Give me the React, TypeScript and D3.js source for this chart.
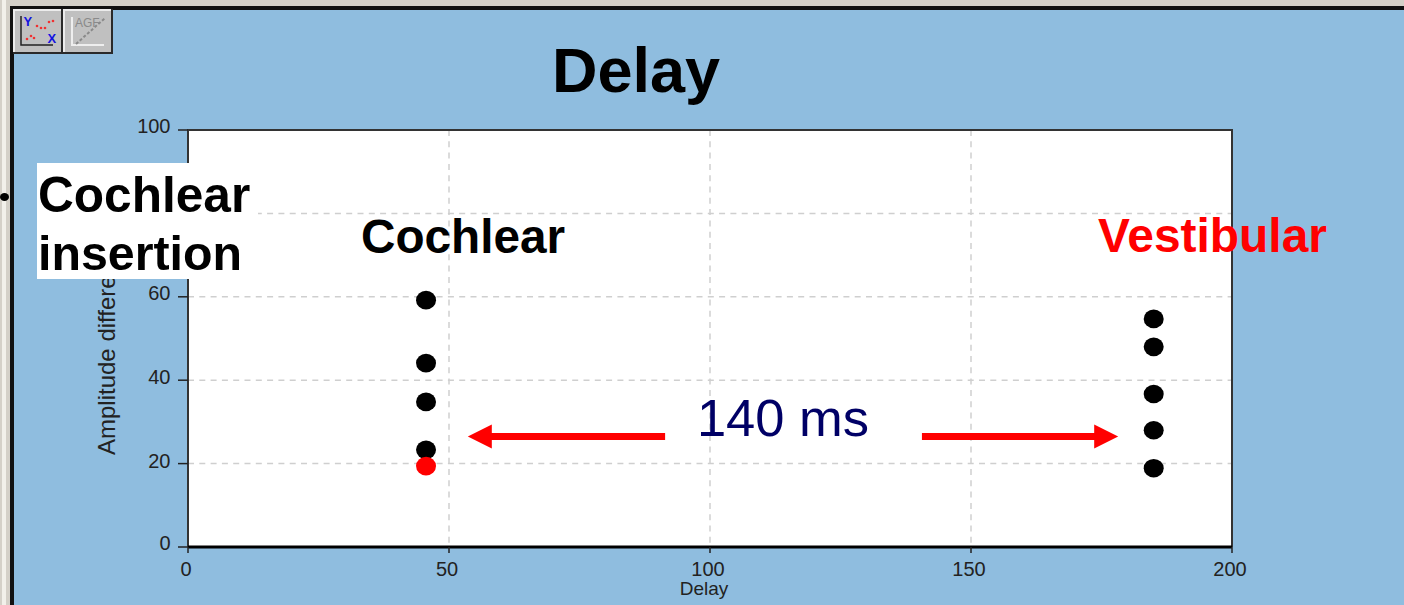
import React from "react";
import * as d3 from "d3";

const xTicks = [0, 50, 100, 150, 200];
const yTicks = [0, 20, 40, 60, 80, 100];
const visibleYLabels = [0, 20, 40, 60, 100];
const cochlearX = [45.6, 45.6, 45.6, 45.6];
const cochlearY = [59.2, 44.1, 34.8, 23.3];
const redX = [45.6];
const redY = [19.4];
const vestibularX = [185, 185, 185, 185, 185];
const vestibularY = [54.7, 48, 36.7, 28, 18.9];
const arrowLeft = [91.4, 53.6];
const arrowRight = [140.6, 178.2];
const arrowLevel = 26.5;

const W = 1404, H = 605;
const BLUE = "#8fbddf";
const F = "'Liberation Sans', Arial, sans-serif";
const x = d3.scaleLinear().domain([0, 200]).range([188, 1232]);
const y = d3.scaleLinear().domain([0, 100]).range([547, 130]);

function Arrow({ a }: { a: number[] }) {
  const x0 = x(a[0]), x1 = x(a[1]), yy = y(arrowLevel);
  const dir = x1 > x0 ? 1 : -1;
  const path = d3.path();
  path.moveTo(x1, yy);
  path.lineTo(x1 - dir * 24, yy - 12);
  path.lineTo(x1 - dir * 24, yy + 12);
  path.closePath();
  return (
    <g>
      <line x1={x0} x2={x1 - dir * 22} y1={yy} y2={yy} stroke="#ff0000" strokeWidth={7} />
      <path d={path.toString()} fill="#ff0000" />
    </g>
  );
}

function Button({ bx, kind }: { bx: number; kind: number }) {
  const by = 9, bw = 50, bh = 45;
  const dots = [[14, 30], [18, 27], [21, 29], [24, 17], [28, 19], [32, 19], [36, 13], [40, 12]];
  return (
    <g transform={`translate(${bx},${by})`}>
      <rect width={bw} height={bh} fill="#c0c0c0" />
      <path d={`M1 ${bh - 1} V1 H${bw - 1}`} fill="none" stroke="#ececec" strokeWidth={2} />
      <path d={`M${bw - 1} 0 V${bh - 1} H0`} fill="none" stroke="#2a2a2a" strokeWidth={2} />
      {kind === 0 ? (
        <g>
          <path d="M8 7 V36 H40" fill="none" stroke="#222" strokeWidth={1.5} />
          {dots.map((d, i) => <circle key={i} cx={d[0]} cy={d[1]} r={1.3} fill="#f03030" />)}
          <text x={10.5} y={16.5} fontFamily={F} fontWeight="bold" fontSize={13} fill="#1414e0">Y</text>
          <text x={34.5} y={34} fontFamily={F} fontWeight="bold" fontSize={13} fill="#1414e0">X</text>
        </g>
      ) : (
        <g>
          <path d="M9 8 V36 H41" fill="none" stroke="#eee" strokeWidth={2} />
          <path d="M13 35 L42 9" stroke="#8a8a8a" strokeWidth={2} strokeDasharray="3 2" />
          <text x={12} y={18} fontFamily={F} fontSize={12} fill="#8a8a8a">AGF</text>
        </g>
      )}
    </g>
  );
}

export default function App() {
  const tickColor = "#222";
  const dotRx = 10, dotRy = 9.3;
  return (
    <svg width={W} height={H} viewBox={`0 0 ${W} ${H}`} style={{ position: "absolute", left: 0, top: 0, display: "block" }}>
      <rect width={W} height={H} fill="#d4d0c8" />
      <rect x={2} y={0} width={4} height={H} fill="#f2f0ea" />
      <rect x={10} y={6} width={W - 10} height={H - 6} fill="#111" />
      <rect x={14} y={10} width={W - 14} height={H - 10} fill={BLUE} />
      <Button bx={13} kind={0} />
      <Button bx={63} kind={1} />

      <text x={636} y={92} textAnchor="middle" fontFamily={F} fontWeight="bold" fontSize={63} fill="#000">Delay</text>

      <rect x={x(0)} y={y(100)} width={x(200) - x(0)} height={y(0) - y(100)} fill="#fff" />

      {yTicks.filter(t => t > 0 && t < 100).map(t => (
        <line key={t} x1={x(0)} x2={x(200)} y1={y(t)} y2={y(t)} stroke="#cfcfcf" strokeWidth={1.5} strokeDasharray="6 5.3" />
      ))}
      {xTicks.filter(t => t > 0 && t < 200).map(t => (
        <line key={t} x1={x(t)} x2={x(t)} y1={y(100)} y2={y(0)} stroke="#cfcfcf" strokeWidth={1.5} strokeDasharray="6 5.3" />
      ))}

      <path d={`M${x(0)} ${y(0)} V${y(100)} H${x(200)} V${y(0)}`} fill="none" stroke="#333" strokeWidth={2} />
      <line x1={x(0)} x2={x(200)} y1={y(0)} y2={y(0)} stroke="#000" strokeWidth={3} />

      {yTicks.map(t => <line key={t} x1={x(0) - 10} x2={x(0)} y1={y(t)} y2={y(t)} stroke={tickColor} strokeWidth={1.5} />)}
      {xTicks.map(t => <line key={t} x1={x(t)} x2={x(t)} y1={y(0)} y2={y(0) + 6} stroke={tickColor} strokeWidth={1.5} />)}
      {visibleYLabels.map(t => (
        <text key={t} x={170.5} y={y(t) + (t === 100 ? 3 : t === 0 ? 3 : t === 60 ? 3 : 4)} textAnchor="end" fontFamily={F} fontSize={20} fill={tickColor}>{t}</text>
      ))}
      {xTicks.map(t => (
        <text key={t} x={x(t) - 2} y={576} textAnchor="middle" fontFamily={F} fontSize={20} fill={tickColor}>{t}</text>
      ))}
      <text x={704} y={595} textAnchor="middle" fontFamily={F} fontSize={19} fill={tickColor}>Delay</text>
      <text transform="translate(115,455) rotate(-90)" fontFamily={F} fontSize={24} fill={tickColor}>Amplitude difference</text>

      {cochlearX.map((v, i) => <ellipse key={i} cx={x(v)} cy={y(cochlearY[i])} rx={dotRx} ry={dotRy} fill="#000" />)}
      {vestibularX.map((v, i) => <ellipse key={i} cx={x(v)} cy={y(vestibularY[i])} rx={dotRx} ry={dotRy} fill="#000" />)}
      {redX.map((v, i) => <ellipse key={i} cx={x(v)} cy={y(redY[i])} rx={dotRx} ry={dotRy} fill="#ff0000" />)}

      <Arrow a={arrowLeft} />
      <Arrow a={arrowRight} />

      <rect x={37} y={163} width={221} height={116} fill="#fff" />
      <text x={38} y={212} fontFamily={F} fontWeight="bold" fontSize={49.6} fill="#000">Cochlear</text>
      <text x={38} y={270} fontFamily={F} fontWeight="bold" fontSize={48.3} fill="#000">insertion</text>
      <ellipse cx={4.5} cy={197} rx={4.5} ry={4} fill="#000" />

      <text x={463} y={253} textAnchor="middle" fontFamily={F} fontWeight="bold" fontSize={47.7} fill="#000">Cochlear</text>
      <text x={1212.5} y={252} textAnchor="middle" fontFamily={F} fontWeight="bold" fontSize={47.9} fill="#ff0000">Vestibular</text>
      <text x={783} y={436} textAnchor="middle" fontFamily={F} fontSize={52.5} fill="#000066">140 ms</text>
    </svg>
  );
}
